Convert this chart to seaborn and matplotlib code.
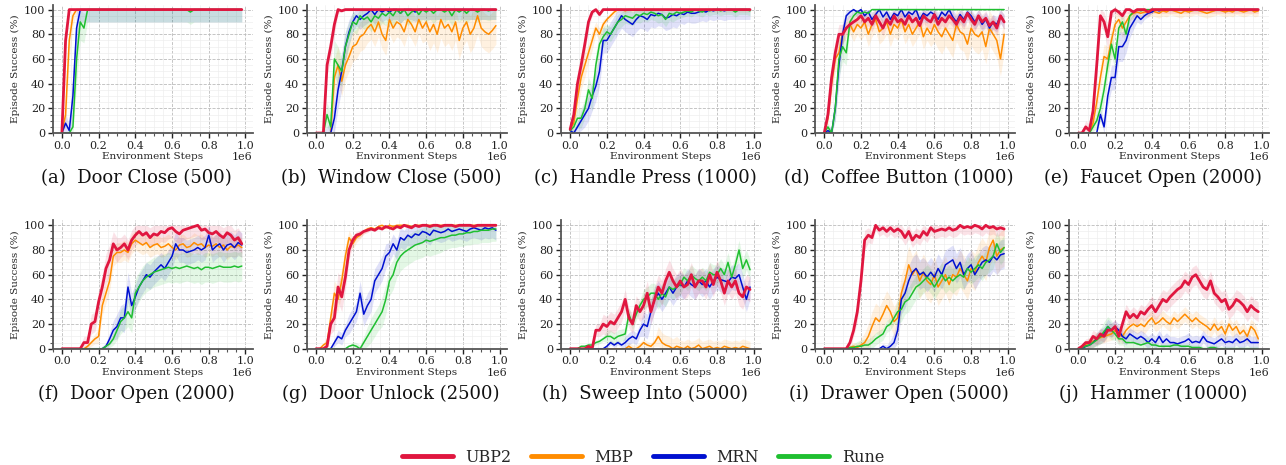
import numpy as np
import matplotlib
matplotlib.use("Agg")
import matplotlib.pyplot as plt
from matplotlib.lines import Line2D
from matplotlib.ticker import AutoMinorLocator, MultipleLocator, FuncFormatter
import seaborn as sns

# methods and colours
methods = ["UBP2", "MBP", "MRN", "Rune"]
colors = {"UBP2": "#e0163f", "MBP": "#ff8c00", "MRN": "#0010d0", "Rune": "#1fbf30"}

# one evaluation every 20k environment steps (50 evals)
n_evals = 50

tasks = ["Door Close (500)", "Window Close (500)", "Handle Press (1000)", "Coffee Button (1000)",
         "Faucet Open (2000)", "Door Open (2000)", "Door Unlock (2500)", "Sweep Into (5000)",
         "Drawer Open (5000)", "Hammer (10000)"]
letters = ["a", "b", "c", "d", "e", "f", "g", "h", "i", "j"]

# ---- (a) door close: mean success and spread
door_close_ubp2 = [0, 75] + [100] * 48
door_close_mbp = [0, 15, 75, 95] + [100] * 46
door_close_mrn = [0, 8, 2, 30, 85] + [100] * 45
door_close_rune = [0, 0, 0, 5, 60, 90, 85] + [100] * 28 + [98] + [100] * 14
door_close_ubp2_sd = [0, 10] + [0] * 48
door_close_mbp_sd = [0, 10, 15, 8, 3] + [0] * 45
door_close_mrn_sd = [0, 8, 5, 20, 15] + [10] * 45
door_close_rune_sd = [0, 0, 0, 5, 20, 15, 12] + [10] * 43

# ---- (b) window close
window_close_ubp2 = [0, 0, 0, 55, 70, 88, 100, 99] + [100] * 42
window_close_mbp = [0, 0, 0, 0, 0, 45, 55, 42, 55, 62, 70, 72, 78, 80, 85, 88, 82, 90, 80, 75,
                    92, 85, 90, 88, 82, 92, 88, 82, 92, 85, 90, 82, 88, 80, 92, 85, 88, 82, 90, 75,
                    85, 90, 80, 85, 95, 85, 82, 80, 83, 87]
window_close_mrn = [0, 0, 0, 0, 0, 12, 35, 50, 70, 82, 90, 95, 92, 95, 97, 100, 96, 100, 98, 100,
                    98, 100, 100, 97, 100, 100, 100, 98, 100, 100] + [100] * 20
window_close_rune = [0, 0, 0, 15, 5, 60, 55, 50, 70, 80, 90, 88, 95, 92, 94, 90, 95, 93, 97, 95,
                     98, 95, 100, 97, 100, 95, 98, 100, 96, 100, 98, 100, 97, 100, 100, 98, 100, 95, 100, 98,
                     100, 97, 100, 100, 98, 100, 100, 99, 100, 100]
window_close_ubp2_sd = [0, 0, 3, 8, 10, 8, 3] + [1] * 43
window_close_mbp_sd = [0, 0, 0, 0, 5, 15, 15, 12, 12, 12] + [12] * 20 + [15] * 20
window_close_mrn_sd = [0, 0, 0, 5, 10, 15, 15, 15, 12, 10] + [8] * 40
window_close_rune_sd = [0, 0, 5, 10, 10, 15, 15, 12, 12, 10] + [8] * 40

# ---- (c) handle press
handle_press_ubp2 = [3, 15, 40, 55, 72, 90, 98, 100, 96, 100] + [100] * 40
handle_press_mbp = [3, 8, 28, 45, 55, 65, 75, 85, 80, 88, 92, 95, 98, 100, 100, 99, 100, 100, 100, 100] + [100] * 30
handle_press_mrn = [2, 0, 5, 10, 15, 20, 30, 38, 50, 75, 75, 80, 85, 90, 95, 92, 90, 88, 92, 95,
                    94, 92, 96, 95, 97, 96, 93, 94, 96, 95, 97, 96, 98, 97, 97, 98, 99, 98, 100, 99,
                    100, 100, 99, 100, 100, 100, 100, 100, 100, 100]
handle_press_rune = [2, 5, 12, 12, 20, 35, 28, 55, 72, 78, 82, 80, 85, 90, 92, 95, 94, 93, 96, 95,
                     97, 96, 98, 97, 95, 96, 92, 97, 96, 98, 97, 98, 99, 98, 100, 99, 98, 100, 99, 100,
                     100, 99, 100, 100, 100, 98, 100, 100, 100, 99]
handle_press_ubp2_sd = [2, 5, 10, 10, 8, 5, 3, 1, 2] + [0] * 41
handle_press_mbp_sd = [2, 5, 10, 10, 10, 8, 8, 5, 5, 4] + [2] * 40
handle_press_mrn_sd = [2, 3, 5, 8, 10, 10, 12, 12, 12, 10] + [10] * 20 + [8] * 20
handle_press_rune_sd = [2, 5, 8, 8, 8, 10, 10, 10, 8, 8] + [6] * 20 + [4] * 20

# ---- (d) coffee button
coffee_button_ubp2 = [0, 15, 45, 65, 80, 80, 85, 88, 90, 92, 95, 90, 93, 88, 95, 90, 85, 92, 88, 95,
                      90, 92, 88, 95, 90, 93, 87, 95, 92, 90, 96, 88, 93, 90, 95, 92, 88, 94, 90, 97,
                      92, 88, 95, 90, 93, 87, 90, 85, 95, 90]
coffee_button_mbp = [0, 12, 40, 60, 65, 80, 85, 88, 82, 88, 85, 90, 80, 88, 92, 82, 85, 90, 80, 88,
                     85, 92, 82, 88, 80, 85, 90, 78, 85, 80, 88, 82, 78, 85, 80, 75, 88, 82, 80, 72,
                     85, 80, 78, 82, 70, 85, 80, 75, 60, 80]
coffee_button_mrn = [0, 2, 0, 20, 55, 80, 95, 98, 100, 98, 100, 95, 98, 92, 96, 100, 94, 98, 92, 97,
                     95, 100, 94, 98, 96, 100, 92, 97, 95, 98, 96, 92, 98, 95, 100, 94, 90, 96, 92, 98,
                     95, 90, 94, 88, 92, 85, 90, 88, 95, 90]
coffee_button_rune = [0, 5, 0, 20, 60, 70, 65, 90, 95, 98, 97, 98, 97, 100, 100, 100, 100, 100, 100, 100] + [100] * 30
coffee_button_ubp2_sd = [0, 5, 10, 10, 8, 8, 5, 5, 5, 5] + [6] * 40
coffee_button_mbp_sd = [0, 5, 10, 10, 10, 8, 8, 8, 8, 8] + [10] * 20 + [14] * 20
coffee_button_mrn_sd = [0, 2, 5, 10, 15, 10, 5, 4, 3, 4] + [6] * 40
coffee_button_rune_sd = [0, 3, 3, 10, 15, 12, 10, 5, 3, 2] + [0] * 40

# ---- (e) faucet open
faucet_open_ubp2 = [0, 0, 5, 2, 18, 55, 95, 90, 78, 98, 100, 98, 95, 100, 100, 98, 100, 100, 100, 98] + [100] * 30
faucet_open_mbp = [0, 0, 0, 0, 8, 25, 45, 62, 60, 75, 88, 92, 85, 90, 95, 97, 98, 97, 98, 98,
                   99, 98, 97, 99, 98, 100, 99, 98, 97, 99, 98, 99, 100, 99, 98, 97, 98, 99, 100, 99,
                   98, 99, 98, 100, 99, 98, 99, 100, 98, 99]
faucet_open_mrn = [0, 0, 0, 0, 0, 0, 15, 5, 30, 45, 45, 70, 70, 75, 85, 90, 95, 92, 95, 97,
                   98, 100, 99, 100, 100, 100, 100, 100, 100, 100] + [100] * 20
faucet_open_rune = [0, 0, 0, 0, 5, 10, 20, 35, 55, 72, 60, 85, 90, 80, 95, 98, 100, 99, 100, 100] + [100] * 30
faucet_open_ubp2_sd = [0, 2, 5, 5, 8, 10, 8, 8, 10, 5] + [3] * 40
faucet_open_mbp_sd = [0] * 4 + [5, 8, 10, 10, 10, 10, 8, 8, 8, 6, 5, 4] + [4] * 34
faucet_open_mrn_sd = [0] * 6 + [5, 5, 8, 10, 10, 12, 12, 10, 8, 6, 5, 4, 3, 3] + [1] * 30
faucet_open_rune_sd = [0] * 4 + [4, 6, 10, 10, 10, 10, 8, 6, 6, 6, 4, 3] + [1] * 34

# ---- (f) door open
door_open_ubp2 = [0, 0, 0, 0, 0, 0, 5, 5, 20, 22, 38, 50, 65, 72, 85, 80, 82, 85, 80, 88,
                  92, 95, 92, 94, 90, 93, 92, 95, 94, 97, 98, 95, 93, 96, 97, 98, 99, 100, 96, 97,
                  94, 93, 95, 92, 90, 94, 92, 88, 90, 85]
door_open_mbp = [0, 0, 0, 0, 0, 0, 0, 2, 5, 8, 10, 35, 45, 55, 75, 78, 78, 80, 78, 85,
                 88, 86, 84, 86, 82, 84, 85, 82, 83, 85, 82, 80, 84, 85, 82, 83, 86, 84, 85, 82,
                 84, 83, 85, 82, 84, 80, 83, 82, 84, 82]
door_open_mrn = [0] * 11 + [0, 2, 8, 15, 18, 25, 25, 50, 35,
                            42, 50, 55, 60, 58, 62, 65, 68, 65, 70, 75, 85, 80, 80, 78, 79, 80, 82, 80, 82,
                            92, 80, 83, 85, 80, 84, 85, 82, 86, 84]
door_open_rune = [0] * 12 + [2, 4, 8, 15, 22, 25, 30, 25,
                             45, 50, 55, 58, 60, 62, 63, 64, 65, 66, 65, 66, 65, 66, 67, 66, 65, 66, 64, 66,
                             66, 65, 66, 67, 66, 66, 66, 67, 66, 67]
door_open_ubp2_sd = [0] * 5 + [2, 5, 5, 8, 8, 10, 10, 12, 12, 10, 10, 8, 8, 8, 8] + [8] * 30
door_open_mbp_sd = [0] * 7 + [2, 3, 4, 6, 8, 8, 8, 8, 8, 8, 8, 8, 8] + [8] * 30
door_open_mrn_sd = [0] * 11 + [2, 3, 5, 8, 10, 10, 12, 12, 10] + [10] * 30
door_open_rune_sd = [0] * 12 + [2, 3, 5, 8, 10, 10, 12, 12] + [12] * 30

# ---- (g) door unlock
door_unlock_ubp2 = [0, 0, 0, 2, 20, 25, 50, 42, 58, 80, 88, 92, 93, 95, 96, 97, 96, 98, 97, 99,
                    98, 97, 99, 98, 100, 99, 98, 100, 99, 100, 100, 99, 100, 100, 99, 100, 100, 100, 99, 100,
                    100, 100, 100, 99, 100, 100, 100, 100, 100, 100]
door_unlock_mbp = [0, 0, 3, 5, 25, 45, 40, 55, 75, 90, 85, 90, 92, 95, 97, 98, 97, 99, 100, 98,
                   100, 99, 100, 100, 100, 100, 99, 100, 100, 100] + [100] * 20
door_unlock_mrn = [0, 0, 0, 0, 0, 5, 10, 8, 15, 20, 25, 30, 45, 28, 35, 40, 55, 60, 65, 75,
                   78, 85, 80, 90, 88, 92, 90, 93, 92, 95, 94, 92, 96, 95, 94, 95, 97, 95, 96, 97,
                   96, 95, 97, 98, 97, 96, 98, 97, 98, 96]
door_unlock_rune = [0, 0, 0, 0, 0, 0, 0, 0, 0, 2, 3, 2, 0, 5, 10, 15, 20, 25, 30, 40,
                    55, 60, 70, 75, 78, 80, 82, 84, 85, 86, 88, 87, 88, 89, 90, 90, 91, 92, 92, 93,
                    93, 94, 94, 95, 95, 96, 96, 96, 97, 97]
door_unlock_ubp2_sd = [0, 0, 2, 3, 8, 10, 12, 12, 10, 8, 4, 3, 3, 2, 2] + [1] * 35
door_unlock_mbp_sd = [0, 0, 2, 3, 8, 10, 10, 10, 8, 6, 5, 4, 3, 2, 2] + [1] * 35
door_unlock_mrn_sd = [0] * 5 + [3, 5, 5, 5, 8, 8, 8, 10, 10, 10, 10, 10, 10, 10, 10] + [8] * 30
door_unlock_rune_sd = [0] * 10 + [3, 3, 3, 5, 8, 10, 10, 10, 12, 12] + [12] * 15 + [10] * 15

# ---- (h) sweep into
sweep_into_ubp2 = [0, 0, 0, 0, 0, 2, 0, 15, 15, 20, 18, 22, 20, 25, 30, 40, 25, 20, 35, 30,
                   35, 45, 30, 40, 50, 45, 55, 62, 55, 50, 55, 50, 52, 60, 50, 55, 55, 50, 60, 52,
                   62, 55, 45, 55, 50, 55, 45, 42, 50, 48]
sweep_into_mbp = [0] * 16 + [2, 0, 0, 2, 5, 3, 2, 5, 10, 5, 3, 2, 0, 2, 1, 0, 2, 0, 1, 3,
                             0, 1, 2, 0, 1, 0, 2, 1, 0, 1, 0, 2, 1, 0]
sweep_into_mrn = [0] * 10 + [2, 5, 3, 5, 3, 5, 8, 10, 8, 15, 20, 18, 30, 40, 45, 40, 45, 50, 45, 50,
                             52, 50, 55, 52, 50, 55, 52, 55, 50, 55, 58, 56, 55, 54, 58, 57, 60, 50, 40, 50]
sweep_into_rune = [0, 0, 0, 2, 2, 3, 3, 5, 6, 8, 10, 10, 8, 10, 11, 12, 28, 20, 28, 35,
                   40, 42, 45, 45, 40, 45, 42, 50, 48, 50, 52, 58, 55, 60, 57, 55, 58, 55, 62, 60,
                   60, 65, 60, 70, 58, 68, 80, 65, 72, 64]
sweep_into_ubp2_sd = [0] * 5 + [2, 2, 5, 5, 8] + [8] * 10 + [10] * 30
sweep_into_mbp_sd = [0] * 16 + [3] * 8 + [8] * 6 + [6] * 20
sweep_into_mrn_sd = [0] * 10 + [2] * 5 + [5] * 5 + [10] * 30
sweep_into_rune_sd = [0] * 5 + [2] * 5 + [5] * 10 + [8] * 30

# ---- (i) drawer open
drawer_open_ubp2 = [0, 0, 0, 0, 0, 0, 0, 5, 15, 30, 55, 88, 92, 90, 100, 96, 98, 95, 98, 95,
                    97, 95, 90, 95, 88, 92, 90, 95, 92, 98, 95, 96, 97, 96, 98, 96, 97, 100, 98, 99,
                    98, 100, 99, 97, 100, 98, 99, 97, 98, 97]
drawer_open_mbp = [0] * 7 + [1, 2, 1, 3, 5, 10, 18, 25, 22, 28, 35, 30, 22,
                             25, 45, 55, 68, 60, 65, 55, 62, 55, 52, 60, 50, 55, 60, 52, 60, 58, 65, 60, 55,
                             65, 62, 70, 75, 70, 82, 88, 75, 80, 82]
drawer_open_mrn = [0] * 16 + [2, 0, 2, 5, 15, 40, 45, 55, 62, 65, 60, 62, 58, 62,
                              58, 65, 60, 68, 70, 72, 65, 70, 60, 65, 68, 60, 65, 70, 72, 70, 75, 72, 76, 77]
drawer_open_rune = [0] * 7 + [1, 1, 2, 2, 3, 3, 5, 8, 10, 12, 18, 20, 25,
                              30, 32, 38, 40, 45, 50, 52, 55, 58, 55, 50, 55, 60, 55, 58, 55, 58, 60, 58, 65,
                              62, 65, 68, 65, 70, 72, 75, 85, 78, 82]
drawer_open_ubp2_sd = [0] * 7 + [3, 5, 8, 10, 8, 6, 5, 4, 5, 5, 5, 5, 5] + [6] * 30
drawer_open_mbp_sd = [0] * 7 + [2, 3, 3, 5, 8, 10, 12, 12, 12, 12, 12, 12, 12] + [15] * 30
drawer_open_mrn_sd = [0] * 16 + [2, 3, 5, 8, 10, 12, 12, 12, 12, 12, 12, 12, 12, 12] + [12] * 20
drawer_open_rune_sd = [0] * 7 + [2, 3, 4] + [5] * 10 + [10] * 30

# ---- (j) hammer
hammer_ubp2 = [0, 2, 5, 5, 10, 8, 12, 10, 15, 15, 18, 10, 20, 30, 25, 28, 25, 30, 28, 32,
               35, 30, 35, 40, 38, 42, 45, 48, 50, 55, 52, 58, 60, 55, 50, 48, 55, 45, 42, 38,
               40, 32, 35, 40, 38, 35, 30, 35, 32, 30]
hammer_mbp = [0, 2, 3, 5, 6, 8, 9, 10, 11, 12, 15, 12, 10, 15, 18, 20, 18, 20, 18, 22,
              25, 20, 22, 25, 22, 20, 25, 22, 25, 28, 25, 22, 25, 22, 20, 18, 15, 20, 15, 18,
              12, 20, 15, 18, 12, 15, 10, 18, 15, 8]
hammer_mrn = [0, 0, 2, 3, 5, 8, 10, 12, 18, 15, 18, 15, 10, 8, 12, 10, 8, 10, 8, 5,
              8, 5, 10, 5, 8, 5, 5, 4, 5, 6, 8, 5, 6, 5, 10, 6, 5, 4, 6, 8,
              5, 6, 5, 8, 5, 6, 8, 5, 5, 5]
hammer_rune = [0, 1, 2, 3, 5, 7, 10, 14, 18, 15, 12, 8, 8, 5, 5, 5, 4, 3, 4, 5,
               3, 3, 2, 2, 2, 2, 3, 3, 2, 2, 2, 1, 1, 1, 0, 0, 1, 1, 0, 0,
               0, 0, 0, 0, 0, 0, 0, 0, 0, 0]
hammer_ubp2_sd = [0, 2, 3, 4, 5, 5, 5, 5, 5, 5] + [6] * 10 + [8] * 30
hammer_mbp_sd = [0, 2, 3, 4, 5, 5, 5, 5, 5, 5] + [6] * 40
hammer_mrn_sd = [0, 1, 2, 3, 4, 5, 6, 6, 6, 6] + [5] * 40
hammer_rune_sd = [0, 1, 2, 3, 4, 5, 6, 8, 8, 8] + [5] * 10 + [2] * 30

# group per task: method -> (mean, spread)
curves = [
    {"UBP2": (door_close_ubp2, door_close_ubp2_sd), "MBP": (door_close_mbp, door_close_mbp_sd),
     "MRN": (door_close_mrn, door_close_mrn_sd), "Rune": (door_close_rune, door_close_rune_sd)},
    {"UBP2": (window_close_ubp2, window_close_ubp2_sd), "MBP": (window_close_mbp, window_close_mbp_sd),
     "MRN": (window_close_mrn, window_close_mrn_sd), "Rune": (window_close_rune, window_close_rune_sd)},
    {"UBP2": (handle_press_ubp2, handle_press_ubp2_sd), "MBP": (handle_press_mbp, handle_press_mbp_sd),
     "MRN": (handle_press_mrn, handle_press_mrn_sd), "Rune": (handle_press_rune, handle_press_rune_sd)},
    {"UBP2": (coffee_button_ubp2, coffee_button_ubp2_sd), "MBP": (coffee_button_mbp, coffee_button_mbp_sd),
     "MRN": (coffee_button_mrn, coffee_button_mrn_sd), "Rune": (coffee_button_rune, coffee_button_rune_sd)},
    {"UBP2": (faucet_open_ubp2, faucet_open_ubp2_sd), "MBP": (faucet_open_mbp, faucet_open_mbp_sd),
     "MRN": (faucet_open_mrn, faucet_open_mrn_sd), "Rune": (faucet_open_rune, faucet_open_rune_sd)},
    {"UBP2": (door_open_ubp2, door_open_ubp2_sd), "MBP": (door_open_mbp, door_open_mbp_sd),
     "MRN": (door_open_mrn, door_open_mrn_sd), "Rune": (door_open_rune, door_open_rune_sd)},
    {"UBP2": (door_unlock_ubp2, door_unlock_ubp2_sd), "MBP": (door_unlock_mbp, door_unlock_mbp_sd),
     "MRN": (door_unlock_mrn, door_unlock_mrn_sd), "Rune": (door_unlock_rune, door_unlock_rune_sd)},
    {"UBP2": (sweep_into_ubp2, sweep_into_ubp2_sd), "MBP": (sweep_into_mbp, sweep_into_mbp_sd),
     "MRN": (sweep_into_mrn, sweep_into_mrn_sd), "Rune": (sweep_into_rune, sweep_into_rune_sd)},
    {"UBP2": (drawer_open_ubp2, drawer_open_ubp2_sd), "MBP": (drawer_open_mbp, drawer_open_mbp_sd),
     "MRN": (drawer_open_mrn, drawer_open_mrn_sd), "Rune": (drawer_open_rune, drawer_open_rune_sd)},
    {"UBP2": (hammer_ubp2, hammer_ubp2_sd), "MBP": (hammer_mbp, hammer_mbp_sd),
     "MRN": (hammer_mrn, hammer_mrn_sd), "Rune": (hammer_rune, hammer_rune_sd)},
]

steps = np.arange(n_evals) * 20000

sns.set_style("white")
plt.rcParams["font.family"] = ["DejaVu Serif"]

fig, axes = plt.subplots(2, 5, figsize=(12.86, 4.65), dpi=100)
fig.subplots_adjust(left=0.041, right=0.987, top=0.99, bottom=0.25, wspace=0.27, hspace=0.68)

draw_order = ["MBP", "MRN", "Rune", "UBP2"]
for k, ax in enumerate(axes.flat):
    task = curves[k]
    #bands first so the lines sit on top
    for m in draw_order:
        mean, sd = np.array(task[m][0]), np.array(task[m][1])
        ax.fill_between(steps, np.clip(mean - sd, 0, 100), np.clip(mean + sd, 0, 100),
                        color=colors[m], alpha=0.12, lw=0)
    for m in draw_order:
        sns.lineplot(x=steps, y=task[m][0], ax=ax, color=colors[m],
                     linewidth=2.0 if m == "UBP2" else 1.1, legend=False)

    ax.set_xlim(-0.05e6, 1.04e6)
    ax.set_ylim(0, 104)
    ax.yaxis.set_major_locator(MultipleLocator(20))
    ax.xaxis.set_major_locator(MultipleLocator(0.2e6))
    ax.xaxis.set_major_formatter(FuncFormatter(lambda v, _: f"{v / 1e6:.1f}"))
    ax.xaxis.set_minor_locator(AutoMinorLocator(4))
    ax.yaxis.set_minor_locator(AutoMinorLocator(4))
    ax.grid(which="major", ls="--", color="#bcbcbc", lw=0.6)
    ax.grid(which="minor", ls="-", color="#eeeeee", lw=0.5)
    ax.set_axisbelow(True)
    for s in ["top", "right"]:
        ax.spines[s].set_visible(False)
    for s in ["left", "bottom"]:
        ax.spines[s].set_color("#555555")
        ax.spines[s].set_linewidth(1.3)
    ax.tick_params(which="major", direction="out", length=3.5, width=1, labelsize=8, pad=2,
                   colors="#222222", bottom=True, left=True)
    ax.tick_params(which="minor", direction="out", length=2, width=0.8, color="#555555",
                   bottom=True, left=True)
    ax.set_xlabel("Environment Steps", fontsize=7.5, labelpad=1)
    ax.set_ylabel("Episode Success (%)", fontsize=7.5, labelpad=3)
    # the 1e6 multiplier sits level with the axis label, as in the paper figure
    ax.text(1.0, -0.19, "1e6", transform=ax.transAxes, ha="right", va="center",
            fontsize=8, color="#222222")
    ax.text(0.42, -0.35, f"({letters[k]})  {tasks[k]}", transform=ax.transAxes,
            ha="center", va="center", fontsize=13, color="#111111")

handles = [Line2D([0], [0], color=colors[m], lw=3.5, solid_capstyle="round") for m in methods]
fig.legend(handles, methods, loc="center", bbox_to_anchor=(0.5, 1 - 457 / 465), ncol=4,
           frameon=False, fontsize=11.5, handlelength=3.2, handletextpad=0.8, columnspacing=1.2)

fig.savefig("out.png", dpi=100)
